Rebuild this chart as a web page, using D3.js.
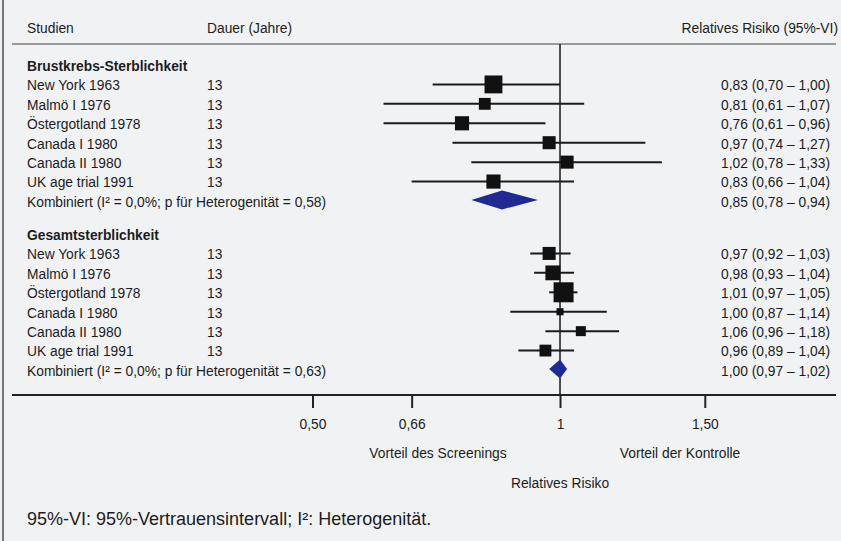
<html>
<head>
  <meta charset="utf-8">
  <title>Forest Plot Screening</title>
  <script src="https://d3js.org/d3.v7.min.js"></script>
  <style>
    body { margin: 0; background: #f1f2f4; }
    text { font-family: "Liberation Sans", Arial, Helvetica, sans-serif; fill: #1c1c1c; }
  </style>
</head>
<body>
<svg id="chart" width="841" height="541"></svg>
<script>
  // DATA
  var studien = ["New York 1963", "Malmö I 1976", "Östergotland 1978", "Canada I 1980", "Canada II 1980", "UK age trial 1991"];
  var dauer = [13, 13, 13, 13, 13, 13];

  var brustRR = [0.83, 0.81, 0.76, 0.97, 1.02, 0.83];
  var brustLo = [0.70, 0.61, 0.61, 0.74, 0.78, 0.66];
  var brustHi = [1.00, 1.07, 0.96, 1.27, 1.33, 1.04];
  var brustGewicht = [32, 14, 20, 17, 17, 20];
  var brustKomb = [0.85, 0.78, 0.94];   // rr, lo, hi

  var gesamtRR = [0.97, 0.98, 1.01, 1.00, 1.06, 0.96];
  var gesamtLo = [0.92, 0.93, 0.97, 0.87, 0.96, 0.89];
  var gesamtHi = [1.03, 1.04, 1.05, 1.14, 1.18, 1.04];
  var gesamtGewicht = [17, 22, 40, 5, 10, 14];
  var gesamtKomb = [1.00, 0.97, 1.02];

  var abschnitte = ["Brustkrebs-Sterblichkeit", "Gesamtsterblichkeit"];
  var kombLabels = ["Kombiniert (I² = 0,0%; p für Heterogenität = 0,58)",
                    "Kombiniert (I² = 0,0%; p für Heterogenität = 0,63)"];
  var tickWerte = [0.5, 0.66, 1, 1.5];
  var tickLabels = ["0,50", "0,66", "1", "1,50"];

  var svg = d3.select("#chart");
  var fs = "13.8px";

  // scales
  var x = d3.scaleLog().domain([0.5, 1.5]).range([312.5, 704.8]);
  var y = d3.scaleLinear().domain([0, 15.7]).range([66, 371]);
  var size = d3.scaleSqrt().domain([0, 40]).range([0, 20]);

  var komma = function(v) { return d3.format(".2f")(v).replace(".", ","); };

  // build rows
  var gruppen = [
    {titel: abschnitte[0], rr: brustRR, lo: brustLo, hi: brustHi, w: brustGewicht, komb: brustKomb, kombLabel: kombLabels[0], start: 0},
    {titel: abschnitte[1], rr: gesamtRR, lo: gesamtLo, hi: gesamtHi, w: gesamtGewicht, komb: gesamtKomb, kombLabel: kombLabels[1], start: 8.7}
  ];
  var studienRows = [], kombRows = [], kopfRows = [];
  gruppen.forEach(function(g) {
    kopfRows.push({label: g.titel, slot: g.start});
    studien.forEach(function(s, i) {
      studienRows.push({label: s, dauer: dauer[i], rr: g.rr[i], lo: g.lo[i], hi: g.hi[i], w: g.w[i], slot: g.start + 1 + i});
    });
    kombRows.push({label: g.kombLabel, rr: g.komb[0], lo: g.komb[1], hi: g.komb[2], slot: g.start + 7});
  });

  // frame
  svg.append("line").attr("x1", 3).attr("x2", 3).attr("y1", 0).attr("y2", 541)
    .style("stroke", "#777").style("stroke-width", 2);

  // header
  svg.append("text").attr("x", 27).attr("y", 28).attr("dy", "0.35em").style("font-size", fs).text("Studien");
  svg.append("text").attr("x", 207).attr("y", 28).attr("dy", "0.35em").style("font-size", fs).text("Dauer (Jahre)");
  svg.append("text").attr("x", 838).attr("y", 28).attr("dy", "0.35em").attr("text-anchor", "end").style("font-size", fs).text("Relatives Risiko (95%-VI)");
  svg.append("line").attr("x1", 12).attr("x2", 836).attr("y1", 44).attr("y2", 44)
    .style("stroke", "#9a9a9a").style("stroke-width", 2);

  // reference line at 1
  svg.append("line").attr("x1", x(1)).attr("x2", x(1)).attr("y1", 44).attr("y2", 395)
    .style("stroke", "#1a1a1a").style("stroke-width", 1.5);

  // section titles
  svg.selectAll(".kopf").data(kopfRows).enter().append("text")
    .attr("class", "kopf")
    .attr("x", 27).attr("y", function(d) { return y(d.slot); }).attr("dy", "0.35em")
    .style("font-size", fs).style("font-weight", "bold")
    .text(function(d) { return d.label; });

  // study labels
  svg.selectAll(".studie").data(studienRows).enter().append("text")
    .attr("class", "studie")
    .attr("x", 27).attr("y", function(d) { return y(d.slot); }).attr("dy", "0.35em")
    .style("font-size", fs).text(function(d) { return d.label; });

  svg.selectAll(".dauer").data(studienRows).enter().append("text")
    .attr("class", "dauer")
    .attr("x", 207).attr("y", function(d) { return y(d.slot); }).attr("dy", "0.35em")
    .style("font-size", fs).text(function(d) { return d.dauer; });

  svg.selectAll(".wert").data(studienRows.concat(kombRows)).enter().append("text")
    .attr("class", "wert")
    .attr("x", 830).attr("y", function(d) { return y(d.slot); }).attr("dy", "0.35em")
    .attr("text-anchor", "end")
    .style("font-size", fs)
    .text(function(d) { return komma(d.rr) + " (" + komma(d.lo) + " \u2013 " + komma(d.hi) + ")"; });

  svg.selectAll(".kombLabel").data(kombRows).enter().append("text")
    .attr("class", "kombLabel")
    .attr("x", 27).attr("y", function(d) { return y(d.slot); }).attr("dy", "0.35em")
    .style("font-size", fs).text(function(d) { return d.label; });

  // CI lines
  svg.selectAll(".ci").data(studienRows).enter().append("line")
    .attr("class", "ci")
    .attr("x1", function(d) { return x(d.lo); })
    .attr("x2", function(d) { return x(d.hi); })
    .attr("y1", function(d) { return y(d.slot) - 1; })
    .attr("y2", function(d) { return y(d.slot) - 1; })
    .style("stroke", "#1a1a1a").style("stroke-width", 2);

  // weight boxes
  svg.selectAll(".box").data(studienRows).enter().append("rect")
    .attr("class", "box")
    .attr("x", function(d) { return x(d.rr) - size(d.w) / 2; })
    .attr("y", function(d) { return y(d.slot) - 1 - size(d.w) / 2; })
    .attr("width", function(d) { return size(d.w); })
    .attr("height", function(d) { return size(d.w); })
    .style("fill", "#111");

  // combined diamonds
  svg.selectAll(".raute").data(kombRows).enter().append("path")
    .attr("class", "raute")
    .attr("d", function(d) {
      var yy = y(d.slot) - 2, h = 9.5;
      return "M" + x(d.lo) + "," + yy + "L" + x(d.rr) + "," + (yy - h) +
             "L" + x(d.hi) + "," + yy + "L" + x(d.rr) + "," + (yy + h) + "Z";
    })
    .style("fill", "#1f2a94");

  // axis
  svg.append("line").attr("x1", 12).attr("x2", 836).attr("y1", 395).attr("y2", 395)
    .style("stroke", "#222").style("stroke-width", 2);
  var axis = svg.append("g").attr("transform", "translate(0,395)")
    .call(d3.axisBottom(x).tickValues(tickWerte).tickSize(13).tickSizeOuter(0).tickPadding(11)
      .tickFormat(function(d, i) { return tickLabels[i]; }));
  axis.select(".domain").remove();
  axis.selectAll(".tick line").style("stroke", "#222").style("stroke-width", 2);
  axis.selectAll(".tick text").style("font-size", fs).style("font-family", null).attr("fill", "#1c1c1c");

  svg.append("text").attr("x", 438).attr("y", 453).attr("dy", "0.35em").attr("text-anchor", "middle")
    .style("font-size", fs).text("Vorteil des Screenings");
  svg.append("text").attr("x", 680).attr("y", 453).attr("dy", "0.35em").attr("text-anchor", "middle")
    .style("font-size", fs).text("Vorteil der Kontrolle");
  svg.append("text").attr("x", x(1)).attr("y", 483).attr("dy", "0.35em").attr("text-anchor", "middle")
    .style("font-size", fs).text("Relatives Risiko");

  // footer
  svg.append("text").attr("x", 27).attr("y", 519).attr("dy", "0.35em")
    .style("font-size", "18px").text("95%-VI: 95%-Vertrauensintervall; I²: Heterogenität.");
</script>
</body>
</html>
